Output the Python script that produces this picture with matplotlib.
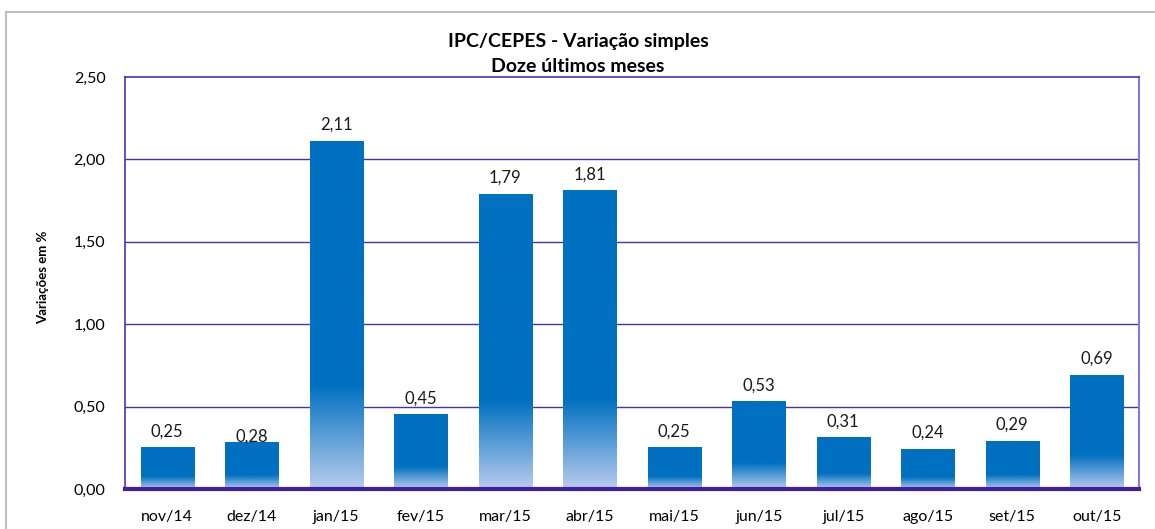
import matplotlib
matplotlib.use("Agg")
import matplotlib.pyplot as plt
import numpy as np
from matplotlib.patches import Rectangle
from matplotlib.colors import to_rgb

categories = ["nov/14", "dez/14", "jan/15", "fev/15", "mar/15", "abr/15",
              "mai/15", "jun/15", "jul/15", "ago/15", "set/15", "out/15"]
values = [0.25, 0.28, 2.11, 0.45, 1.79, 1.81, 0.25, 0.53, 0.31, 0.24, 0.29, 0.69]
value_labels = ["0,25", "0,28", "2,11", "0,45", "1,79", "1,81",
                "0,25", "0,53", "0,31", "0,24", "0,29", "0,69"]
yticks = [0.0, 0.5, 1.0, 1.5, 2.0, 2.5]
ytick_labels = ["0,00", "0,50", "1,00", "1,50", "2,00", "2,50"]
title_lines = ["IPC/CEPES - Variação simples", "Doze últimos meses"]
ylabel = "Variações em %"

plt.rcParams['font.family'] = ['Lato', 'DejaVu Sans']

W, H = 1155, 529
fig = plt.figure(figsize=(W / 100, H / 100), dpi=100)

# outer chart border (gray)
fig.patches.append(Rectangle((6 / W, -0.1), 1.2, 1 - 12 / H + 0.1,
                             transform=fig.transFigure, fill=False,
                             edgecolor="#BFBFBF", linewidth=1.5))

left, right, top, bottom = 125, 1139, 77, 489
ax = fig.add_axes([left / W, 1 - bottom / H, (right - left) / W, (bottom - top) / H])

x = np.arange(len(categories))
width = 0.63
ax.set_xlim(-0.5, len(categories) - 0.5)
ax.set_ylim(0, 2.5)

solid = np.array(to_rgb("#0070C0"))
light = np.array([0.72, 0.80, 0.93])
N = 200
t = np.linspace(0, 1, N)  # 0 = bottom, 1 = top
frac = np.clip(t / 0.3, 0, 1)
cols = light[None, :] * (1 - frac[:, None]) + solid[None, :] * frac[:, None]
grad = cols[::-1][:, None, :]  # top row first

for xi, v in zip(x, values):
    ax.imshow(grad, extent=[xi - width / 2, xi + width / 2, 0, v],
              aspect='auto', interpolation='bilinear', zorder=3)

offsets = [0.10] * len(values)
offsets[1] = 0.04
for xi, v, lab, off in zip(x, values, value_labels, offsets):
    ax.text(xi, v + off, lab, ha='center', va='center', fontsize=12, color='#1a1a1a', zorder=4)

ax.set_xlim(-0.5, len(categories) - 0.5)
ax.set_ylim(0, 2.5)

ax.set_yticks(yticks)
ax.set_yticklabels(ytick_labels, fontsize=11.5)
ax.set_xticks(x)
ax.set_xticklabels(categories, fontsize=11.5)
ax.tick_params(axis='both', length=0)
ax.tick_params(axis='y', pad=14)
ax.tick_params(axis='x', pad=15)

for yv in yticks[1:-1]:
    ax.axhline(yv, color="#4A32A8", linewidth=1.0, zorder=1)

for s in ['top', 'left']:
    ax.spines[s].set_color("#4A32B8")
    ax.spines[s].set_linewidth(1.2)
ax.spines['right'].set_color("#8A78D8")
ax.spines['right'].set_linewidth(1.5)
ax.spines['bottom'].set_color("#4020A0")
ax.spines['bottom'].set_linewidth(3)
ax.spines['bottom'].set_zorder(5)

fig.text(43 / W, 1 - 277 / H, ylabel, rotation=90, ha='center', va='center',
         fontsize=9.5, fontweight='bold')
for line, yp in zip(title_lines, [42, 67]):
    fig.text(578 / W, 1 - yp / H, line, ha='center', va='center', fontsize=14,
             fontweight='bold')

fig.savefig("out.png", dpi=100)
